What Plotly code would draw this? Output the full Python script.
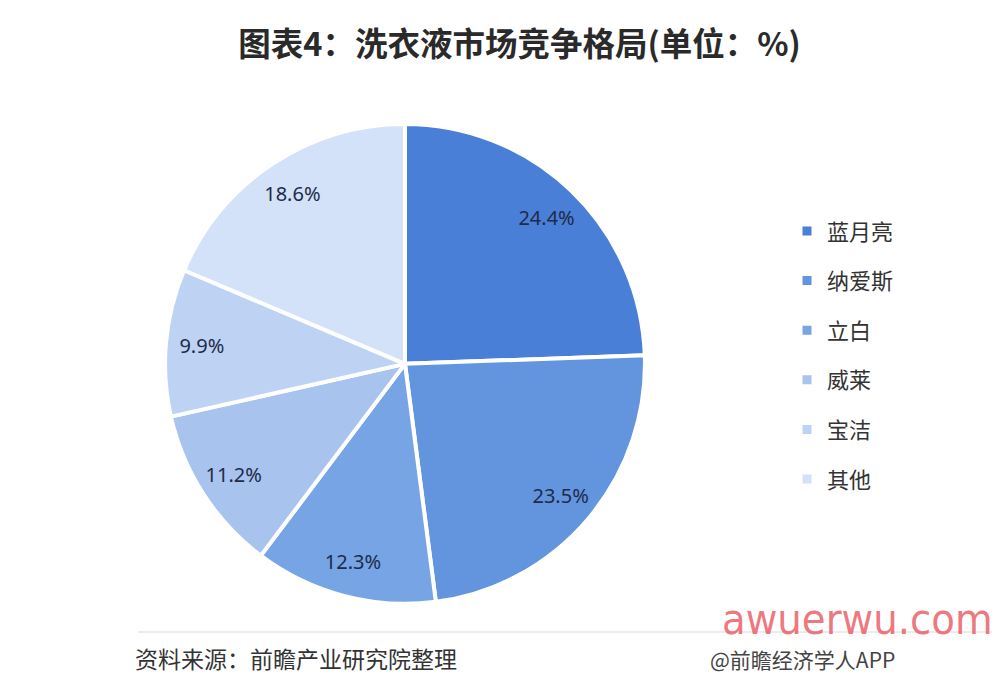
import plotly.graph_objects as go

brands = ["蓝月亮", "纳爱斯", "立白", "威莱", "宝洁", "其他"]
shares = [24.4, 23.5, 12.3, 11.2, 9.9, 18.6]
colors = ["#4A7FD8", "#6395DF", "#76A4E4", "#A8C3EE", "#BED3F3", "#D3E2F8"]
label_texts = ["24.4%", "23.5%", "12.3%", "11.2%", "9.9%", "18.6%"]

FONT = "Noto Sans CJK SC"
DOMAIN = dict(x=[0.157, 0.637], y=[0.116, 0.828])

fig = go.Figure()
# the slices
fig.add_trace(go.Pie(
    labels=brands, values=shares, textinfo="none",
    sort=False, direction="clockwise", rotation=0,
    marker=dict(colors=colors, line=dict(color="white", width=4)),
    domain=DOMAIN, showlegend=False, hoverinfo="label+percent",
))
# transparent ring that carries the labels near the rim
fig.add_trace(go.Pie(
    labels=brands, values=shares, text=label_texts, hole=0.7,
    textinfo="text", textposition="inside", insidetextorientation="horizontal",
    sort=False, direction="clockwise", rotation=0,
    marker=dict(colors=["rgba(0,0,0,0)"] * len(brands), line=dict(width=0)),
    textfont=dict(size=20, color="#1E2B4A", family="Noto Sans"),
    domain=DOMAIN, showlegend=False, hoverinfo="skip",
))

# legend entries (one group each so the spacing can be set)
for b, c in zip(brands, colors):
    fig.add_trace(go.Scatter(
        x=[None], y=[None], mode="markers", name=b, legendgroup=b,
        marker=dict(symbol="square", size=9, color=c),
    ))

fig.update_layout(
    width=1000, height=674,
    margin=dict(l=0, r=0, t=0, b=0),
    paper_bgcolor="white", plot_bgcolor="white",
    xaxis=dict(visible=False), yaxis=dict(visible=False),
    title=dict(text="<b>图表4：洗衣液市场竞争格局(单位：%)</b>", x=0.5115, xanchor="center",
               y=1 - 37 / 674, yanchor="middle",
               font=dict(size=32.5, family=FONT, color="#2A2A2A")),
    legend=dict(x=0.779, y=0.70, xanchor="left", yanchor="top",
                font=dict(size=22, family=FONT, color="#333333"),
                tracegroupgap=18, itemwidth=30, bgcolor="rgba(0,0,0,0)"),
    shapes=[dict(type="line", xref="paper", yref="paper", x0=0.13, x1=1.0,
                 y0=1 - 624 / 674, y1=1 - 624 / 674,
                 line=dict(color="#E6E6E6", width=1.5))],
    annotations=[
        dict(text="资料来源：前瞻产业研究院整理", xref="paper", yref="paper",
             x=0.125, y=1 - 650 / 674, xanchor="left", yanchor="middle", showarrow=False,
             font=dict(size=23, family=FONT, color="#333333")),
        dict(text="awuerwu.com", xref="paper", yref="paper",
             x=0.987, y=1 - 611 / 674, xanchor="right", yanchor="middle", showarrow=False,
             font=dict(size=43, family="DejaVu Sans Condensed", color="rgba(236,96,104,0.85)")),
        dict(text="@前瞻经济学人APP", xref="paper", yref="paper",
             x=0.70, y=1 - 651 / 674, xanchor="left", yanchor="middle", showarrow=False,
             font=dict(size=21, family=FONT, color="#444444")),
    ],
)

fig.write_html("out.html")
